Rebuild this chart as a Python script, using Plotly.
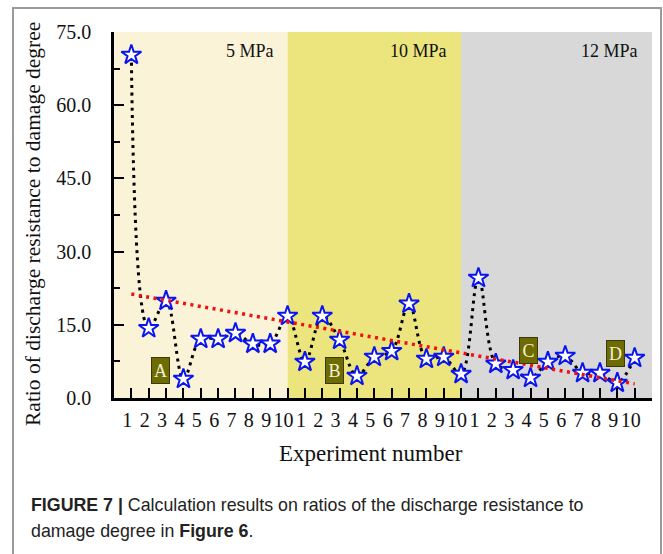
import plotly.graph_objects as go

# ---------------- data ----------------
exp_index = list(range(1, 31))
ratio_values = [70.3, 14.3, 19.9, 3.9, 12.1, 12.1, 13.3, 11.1, 11.1, 16.8,
                7.4, 16.8, 11.9, 4.5, 8.4, 9.6, 19.3, 8.0, 8.4, 4.9,
                24.6, 7.0, 5.7, 4.1, 7.4, 8.6, 5.1, 5.1, 3.1, 8.2]
trend_x = [1, 30]
trend_y = [21.3, 2.9]
tick_vals = list(range(0, 32))
tick_text = [""] + [str(i) for i in range(1, 11)] * 3 + [""]
y_tick_vals = [0, 15, 30, 45, 60, 75]
y_tick_text = ["0.0", "15.0", "30.0", "45.0", "60.0", "75.0"]
band_edges = [0, 10, 20, 31]
band_labels = ["5 MPa", "10 MPa", "12 MPa"]
band_colors = ["#FBF3D7", "#ECE57E", "#D8D8D8"]
box_labels = ["A", "B", "C", "D"]
box_x = [2.7, 12.7, 23.9, 28.9]
box_y = [5.7, 5.7, 9.8, 9.2]

# ---------------- layout geometry ----------------
W, H = 663, 554
L, R, T, B = 114, 652, 32, 398
PW, PH = R - L, B - T


def px(x):
    return (x - L) / PW


def py(y):
    return (B - y) / PH


SERIF = "Liberation Serif, Times New Roman, serif"
SANS = "Liberation Sans, Arial, sans-serif"

fig = go.Figure()

# black dotted spline
fig.add_trace(go.Scatter(
    x=exp_index, y=ratio_values, mode="lines",
    line=dict(color="black", width=3, dash="3px,4.5px", shape="spline", smoothing=1.0),
    hoverinfo="skip", showlegend=False))
# stars
fig.add_trace(go.Scatter(
    x=exp_index, y=ratio_values, mode="markers",
    marker=dict(symbol="star", size=15, color="white",
                line=dict(color="#0A14F0", width=2)),
    showlegend=False))
# red trend
fig.add_trace(go.Scatter(
    x=trend_x, y=trend_y, mode="lines",
    line=dict(color="#F01010", width=3.5, dash="3px,4.5px"),
    hoverinfo="skip", showlegend=False))

shapes = []
for i in range(3):
    shapes.append(dict(type="rect", xref="x", yref="y",
                       x0=band_edges[i], x1=band_edges[i + 1], y0=0, y1=75,
                       fillcolor=band_colors[i], line=dict(width=0), layer="below"))
# outer frame
fc = "#9A9A9A"
shapes.append(dict(type="line", xref="paper", yref="paper",
                   x0=px(13), x1=px(13), y0=py(8), y1=py(556), line=dict(color=fc, width=2)))
shapes.append(dict(type="line", xref="paper", yref="paper",
                   x0=px(12), x1=px(662), y0=py(8), y1=py(8), line=dict(color=fc, width=2)))
shapes.append(dict(type="line", xref="paper", yref="paper",
                   x0=px(661), x1=px(661), y0=py(8), y1=py(556), line=dict(color=fc, width=2)))

annotations = []
for i in range(3):
    annotations.append(dict(x=band_edges[i + 1], y=75, xref="x", yref="y",
                            text=band_labels[i], showarrow=False,
                            xanchor="right", yanchor="top", xshift=-12, yshift=-7,
                            font=dict(family=SERIF, size=18, color="#111")))
for lab, bx, by in zip(box_labels, box_x, box_y):
    annotations.append(dict(x=bx, y=by, xref="x", yref="y", text=lab, showarrow=False,
                            width=17, height=25, bgcolor="#6E6C00",
                            bordercolor="#3A3A10", borderwidth=1, borderpad=0,
                            xanchor="center", yanchor="middle",
                            font=dict(family=SERIF, size=18, color="#F2F0D8")))
# axis titles
annotations.append(dict(x=px(33), y=py(224), xref="paper", yref="paper",
                        xanchor="center", yanchor="middle",
                        text="Ratio of discharge resistance to damage degree",
                        textangle=-90, showarrow=False,
                        font=dict(family=SERIF, size=21.5, color="#111")))
annotations.append(dict(x=px(371), y=py(453), xref="paper", yref="paper",
                        xanchor="center", yanchor="middle",
                        text="Experiment number", showarrow=False,
                        font=dict(family=SERIF, size=23, color="#111")))
# caption
annotations.append(dict(x=px(29), y=py(505), xref="paper", yref="paper",
                        xanchor="left", yanchor="middle", showarrow=False,
                        text="<b>FIGURE 7 |</b> Calculation results on ratios of the discharge resistance to",
                        font=dict(family=SANS, size=17.8, color="#222")))
annotations.append(dict(x=px(29), y=py(531), xref="paper", yref="paper",
                        xanchor="left", yanchor="middle", showarrow=False,
                        text="damage degree in <b>Figure 6</b>.",
                        font=dict(family=SANS, size=17.8, color="#222")))

fig.update_layout(
    width=W, height=H,
    margin=dict(l=L, r=W - R, t=T, b=H - B),
    paper_bgcolor="white", plot_bgcolor="white",
    shapes=shapes, annotations=annotations,
    xaxis=dict(range=[0, 31], tickvals=tick_vals, ticktext=tick_text,
               ticks="inside", ticklen=10, tickwidth=2, tickcolor="black",
               showline=True, linecolor="black", linewidth=2.5,
               showgrid=False, zeroline=False,
               tickfont=dict(family=SERIF, size=20, color="#111"),
               ticklabelshift=-4, ticklabelstandoff=2),
    yaxis=dict(range=[0, 75], tickvals=y_tick_vals, ticktext=y_tick_text,
               ticks="inside", ticklen=10, tickwidth=2, tickcolor="black",
               showline=True, linecolor="black", linewidth=2.5,
               showgrid=False, zeroline=False,
               minor=dict(dtick=7.5, tick0=0, ticks="inside", ticklen=6, tickwidth=2,
                          tickcolor="black", showgrid=False),
               tickfont=dict(family=SERIF, size=20, color="#111"),
               ticklabelstandoff=16),
)

fig.write_html("out.html")
